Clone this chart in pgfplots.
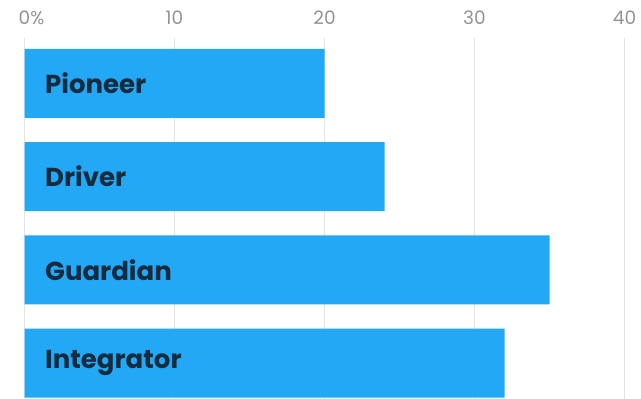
\documentclass[border=0pt]{standalone}
\usepackage{pgfplots}
\pgfplotsset{compat=1.18}
\usepackage{fontspec}
\setmainfont{Poppins}
\definecolor{barblue}{HTML}{23A8F5}
\definecolor{labnavy}{HTML}{172B3E}
\definecolor{gridgray}{HTML}{E4E4E4}
\definecolor{tickgray}{HTML}{939393}
\begin{document}
\begin{tikzpicture}
\begin{axis}[
  scale only axis, width=600pt, height=361pt,
  xmin=0, xmax=40, ymin=0.512, ymax=4.386, y dir=reverse,
  xbar, bar width=0.74, bar shift=0pt,
  axis line style={draw=none},
  xtick={0,10,20,30,40}, xticklabels={0\rlap{\%},10,20,30,40},
  xticklabel pos=upper,
  xmajorgrids, grid style={gridgray, line width=1.2pt},
  major tick length=0pt,
  ytick=\empty,
  xticklabel style={anchor=base, inner sep=0pt, yshift=14pt, font=\fontsize{18.5}{18.5}\selectfont, text=tickgray},
]
\addplot[fill=barblue, draw=none] coordinates {(20,1) (24,2) (35,3) (32,4)};
\addplot[draw=none, fill=none, point meta=explicit symbolic,
  nodes near coords={\pgfplotspointmeta},
  nodes near coords style={anchor=west, inner sep=0pt, xshift=20.5pt, font=\bfseries\fontsize{26}{26}\selectfont, text=labnavy}]
  coordinates {(0,1) [Pioneer] (0,2) [Driver] (0,3) [Guardian] (0,4) [Integrator]};
\end{axis}
\pgfresetboundingbox
\path[use as bounding box] (-24.5pt,0pt) rectangle (616.5pt,399pt);
\end{tikzpicture}
\end{document}
